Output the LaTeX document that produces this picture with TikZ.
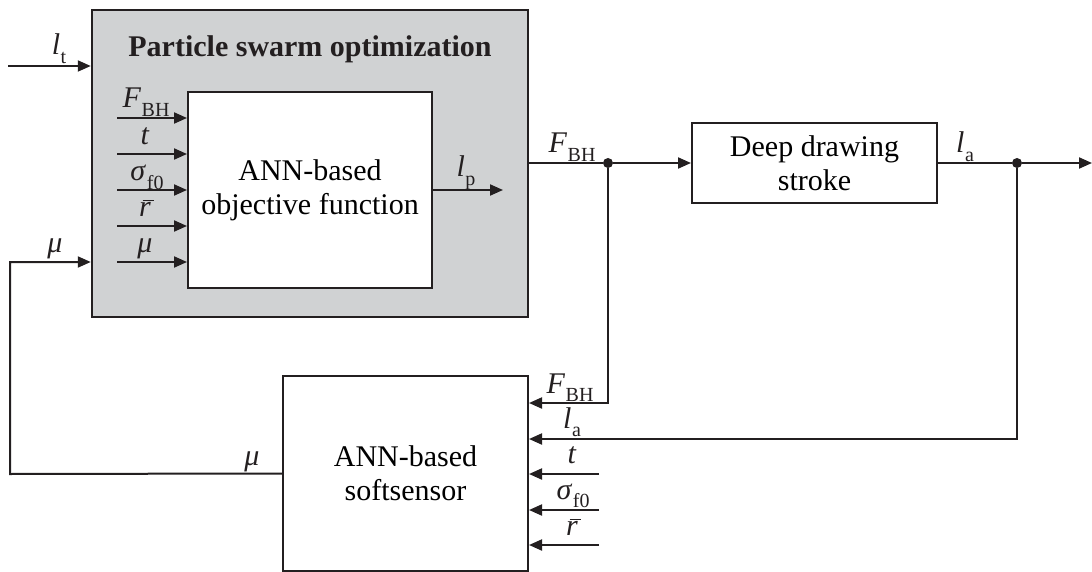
\documentclass[tikz,border=0pt]{standalone}
\usepackage{fontspec}
\setmainfont{Liberation Serif}
\usetikzlibrary{arrows.meta}
\definecolor{psogray}{RGB}{208,210,211}
\definecolor{ink}{RGB}{35,31,32}
\newcommand{\vsub}[2]{\textit{#1}\kern0.02em\raisebox{-0.28em}{\fontsize{20}{20}\selectfont #2}}
\newcommand{\rbar}{\leavevmode\hbox{\rlap{\kern0.12em\raisebox{0.5em}{\rule{0.36em}{0.05em}}}\textit{r}}}
\begin{document}
\begin{tikzpicture}[x=1pt,y=-1pt,
  blk/.style={draw=ink, line width=2pt, fill=white, inner sep=0pt,
    font=\fontsize{30}{34}\selectfont, align=center},
  arr/.style={draw=ink, line width=2pt, -{Triangle[length=13pt,width=11pt]}},
  wire/.style={draw=ink, line width=2pt},
  lbl/.style={anchor=base, inner sep=0pt, text=ink, font=\fontsize{30}{34}\selectfont},
  jdot/.style={circle, fill=ink, inner sep=0pt, minimum size=10pt}]
\useasboundingbox (0,0) rectangle (1092,572);

% blocks
\node[blk, fill=psogray, line width=2.5pt, minimum width=436pt, minimum height=307pt] (pso) at (310,163.5) {};
\node[lbl, font=\bfseries\fontsize{30}{34}\selectfont] (title) at (310,57) {Particle swarm optimization};
\node[blk, minimum width=244pt, minimum height=196pt] (obj) at (310,190) {ANN-based\\objective function};
\node[blk, minimum width=245pt, minimum height=80pt] (dds) at (814.5,163) {Deep drawing\\stroke};
\node[blk, minimum width=245pt, minimum height=195pt] (soft) at (405.5,473.5) {ANN-based\\softsensor};

% coordinates
\coordinate (ltin) at (8,66);
\coordinate (mucorner1) at (10,474);
\coordinate (mucorner2) at (10,262);
\coordinate (i1) at (117,118);
\coordinate (i2) at (117,154);
\coordinate (i3) at (117,190);
\coordinate (i4) at (117,226);
\coordinate (i5) at (117,262);
\coordinate (lpout) at (503,190);
\node[jdot] (d1) at (608,163) {};
\node[jdot] (d2) at (1017,163) {};
\coordinate (laout) at (1092,163);
\coordinate (c1) at (608,403);
\coordinate (c2) at (1017,439);
\coordinate (s3) at (599,474);
\coordinate (s4) at (599,510);
\coordinate (s5) at (599,545);

% connectors into PSO
\draw[arr] (ltin) -- (ltin -| pso.west);
\draw[arr] (soft.west) -- (mucorner1) -- (mucorner2) -- (mucorner2 -| pso.west);
\foreach \c in {i1,i2,i3,i4,i5} \draw[arr] (\c) -- (\c -| obj.west);
\draw[arr] (obj.east) -- (lpout);

% forward path
\draw[wire] (pso.east |- d1) -- (d1);
\draw[arr] (d1) -- (dds.west);
\draw[wire] (dds.east) -- (d2);
\draw[arr] (d2) -- (laout);

% feedback to softsensor
\draw[arr] (d1) -- (c1) -- (c1 -| soft.east);
\draw[arr] (d2) -- (c2) -- (c2 -| soft.east);
\foreach \c in {s3,s4,s5} \draw[arr] (\c) -- (\c -| soft.east);

% labels
\node[lbl] (Llt) at (59,55) {\vsub{l}{t}};
\node[lbl] (Lmu1) at (55,252) {\textit{μ}};
\node[lbl] (Lf1) at (146,108) {\vsub{F}{BH}};
\node[lbl] (Lt1) at (145,145) {\textit{t}};
\node[lbl] (Ls1) at (147,181) {\vsub{σ}{f0}};
\node[lbl] (Lr1) at (145,216) {\rbar};
\node[lbl] (Lmu2) at (145,252) {\textit{μ}};
\node[lbl] (Llp) at (466,177) {\vsub{l}{p}};
\node[lbl] (Lf2) at (572,153) {\vsub{F}{BH}};
\node[lbl] (Lla1) at (965,153) {\vsub{l}{a}};
\node[lbl] (Lmu3) at (252,465) {\textit{μ}};
\node[lbl] (Lf3) at (570,393) {\vsub{F}{BH}};
\node[lbl] (Lla2) at (572,428) {\vsub{l}{a}};
\node[lbl] (Lt2) at (572,463) {\textit{t}};
\node[lbl] (Ls2) at (573,499) {\vsub{σ}{f0}};
\node[lbl] (Lr2) at (572,535) {\rbar};
\end{tikzpicture}
\end{document}
